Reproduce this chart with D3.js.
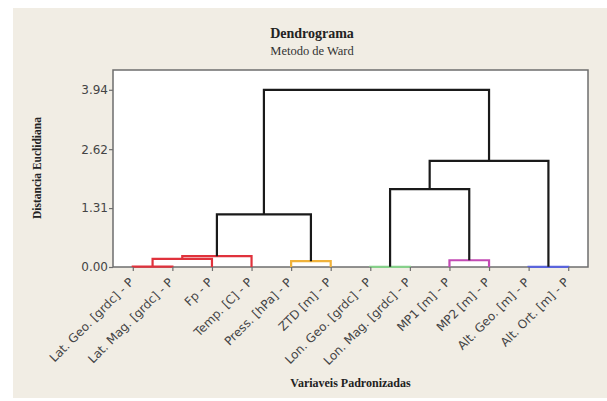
<!DOCTYPE html>
<html>
<head>
<meta charset="utf-8">
<script src="https://cdn.jsdelivr.net/npm/d3@7"></script>
<style>
  body { margin: 0; background: #fff; }
</style>
</head>
<body>
<div id="chart"></div>
<script>
// leaves in drawing order
var leaves = ["Lat. Geo. [grdc] - P", "Lat. Mag. [grdc] - P", "Fp - P", "Temp. [C] - P",
  "Press. [hPa] - P", "ZTD [m] - P", "Lon. Geo. [grdc] - P", "Lon. Mag. [grdc] - P",
  "MP1 [m] - P", "MP2 [m] - P", "Alt. Geo. [m] - P", "Alt. Ort. [m] - P"];

// merges, node ids 12.. like a linkage table
var linkLeft   = [0, 12, 13, 4, 6, 8, 10, 14, 16, 20, 19];
var linkRight  = [1, 2, 3, 5, 7, 9, 11, 15, 17, 18, 21];
var linkHeight = [0.01, 0.18, 0.24, 0.13, 0.005, 0.15, 0.005, 1.17, 1.73, 2.36, 3.94];
var linkColor  = ["#e0323c", "#e0323c", "#e0323c", "#f0b23a", "#86d08a", "#c24ab4", "#5a64dc",
  "#1a1a1a", "#1a1a1a", "#1a1a1a", "#1a1a1a"];

var yTicks = [0, 1.31, 2.62, 3.94];

var W = 607, H = 401;
var svg = d3.select("#chart").append("svg").attr("width", W).attr("height", H);

// beige panel
svg.append("rect").attr("x", 13).attr("y", 8).attr("width", W - 13).attr("height", 390)
  .attr("fill", "#f1ede4");

var pLeft = 113, pRight = 588, pTop = 70, pBottom = 267;

var x = d3.scalePoint().domain(d3.range(leaves.length)).range([pLeft, pRight]).padding(0.5);
var y = d3.scaleLinear().domain([0, 4.38]).range([pBottom, pTop]);

svg.append("rect").attr("x", pLeft).attr("y", pTop)
  .attr("width", pRight - pLeft).attr("height", pBottom - pTop)
  .attr("fill", "#fff").attr("stroke", "#6e6e6e").attr("stroke-width", 1.5);

// node positions
var nodeX = leaves.map(function(d, i) { return x(i); });
var nodeY = leaves.map(function() { return y(0); });
linkLeft.forEach(function(l, k) {
  var r = linkRight[k];
  nodeX.push((nodeX[l] + nodeX[r]) / 2);
  nodeY.push(y(linkHeight[k]));
});

var links = linkLeft.map(function(l, k) {
  return {l: l, r: linkRight[k], h: linkHeight[k], c: linkColor[k]};
});

svg.append("g").selectAll("path").data(links).enter()
  .append("path")
  .attr("d", function(d) {
    var yy = y(d.h);
    return "M" + nodeX[d.l] + "," + nodeY[d.l] + "V" + yy + "H" + nodeX[d.r] + "V" + nodeY[d.r];
  })
  .attr("fill", "none")
  .attr("stroke", function(d) { return d.c; })
  .attr("stroke-width", 2.2);

// y axis
var yAxis = svg.append("g").attr("transform", "translate(" + pLeft + ",0)")
  .call(d3.axisLeft(y).tickValues(yTicks).tickFormat(d3.format(".2f")).tickSize(4).tickSizeOuter(0));
yAxis.select(".domain").remove();
yAxis.selectAll("line").attr("stroke", "#6e6e6e").attr("stroke-width", 1.2);
yAxis.selectAll("text").attr("fill", "#444").style("font-family", "DejaVu Sans")
  .style("font-size", "12px").attr("x", -5);

// x axis
var xAxis = svg.append("g").attr("transform", "translate(0," + pBottom + ")")
  .call(d3.axisBottom(x).tickSize(4).tickSizeOuter(0).tickFormat(function(i) { return leaves[i]; }));
xAxis.select(".domain").remove();
xAxis.selectAll("line").attr("stroke", "#6e6e6e").attr("stroke-width", 1.2);
xAxis.selectAll("text")
  .attr("fill", "#444")
  .style("font-family", "DejaVu Sans")
  .style("font-size", "12px")
  .attr("text-anchor", "end")
  .attr("dy", null)
  .attr("y", null)
  .attr("transform", "translate(1,16) rotate(-45)");

// titles
svg.append("text").attr("x", 312).attr("y", 38).attr("text-anchor", "middle")
  .style("font-family", "Liberation Serif").style("font-weight", "bold")
  .style("font-size", "14px").attr("fill", "#222").text("Dendrograma");
svg.append("text").attr("x", 312).attr("y", 55).attr("text-anchor", "middle")
  .style("font-family", "Liberation Serif")
  .style("font-size", "12.5px").attr("fill", "#333").text("Metodo de Ward");

svg.append("text").attr("x", (pLeft + pRight) / 2).attr("y", 387).attr("text-anchor", "middle")
  .style("font-family", "Liberation Serif").style("font-weight", "bold")
  .style("font-size", "12px").attr("fill", "#222").text("Variaveis Padronizadas");

svg.append("text").attr("transform", "translate(41," + 168 + ") rotate(-90)")
  .attr("text-anchor", "middle")
  .style("font-family", "Liberation Serif").style("font-weight", "bold")
  .style("font-size", "11.5px").attr("fill", "#222").text("Distancia Euclidiana");
</script>
</body>
</html>
